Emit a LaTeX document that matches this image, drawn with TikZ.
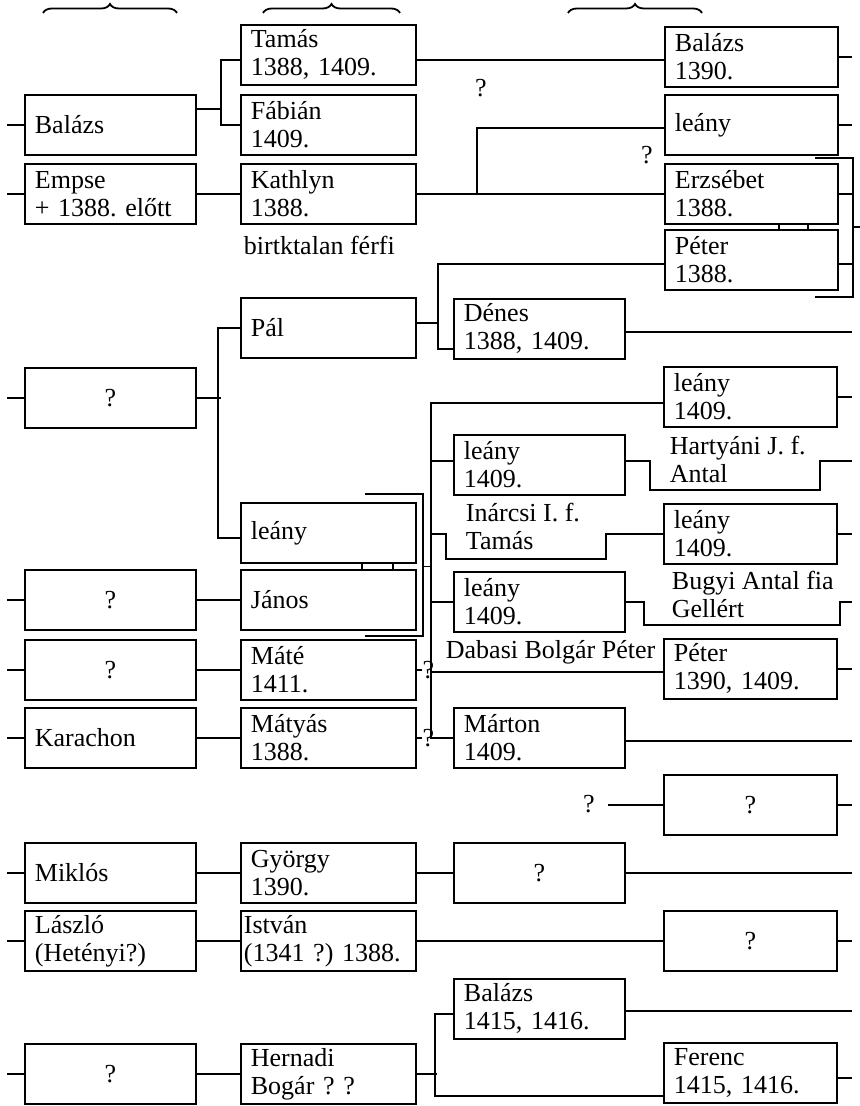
\documentclass[tikz,border=0pt]{standalone}
\usepackage{fontspec}
\setmainfont{Liberation Serif}
\frenchspacing
\usetikzlibrary{calc,decorations.pathreplacing}

\tikzset{
  every node/.style={font=\fontsize{13}{14}\selectfont},
  person/.style={draw, anchor=north west, text width=#1, minimum height=30pt,
    inner xsep=5pt, inner ysep=0pt, align=left},
  person/.default=75.5pt,
  unknown/.style={person=#1, align=center},
  unknown/.default=75.5pt,
  note/.style={anchor=west, align=left, inner sep=0pt},
  qmark/.style={inner sep=0pt}
}

\begin{document}
\begin{tikzpicture}[x=0.5pt, y=-0.5pt, line width=0.9pt]
        \useasboundingbox (0,0) rectangle (859,1106);
        \coordinate (edgeL) at (7,0);
        \coordinate (edgeR) at (852,0);

        % braces over the columns
        \draw[decorate, decoration={brace, amplitude=4.5pt}] (43,13) -- (177,13);
        \draw[decorate, decoration={brace, amplitude=4.5pt}] (263,13) -- (400,13);
        \draw[decorate, decoration={brace, amplitude=4.5pt}] (568,13) -- (702,13);

        % first column
        \node[person] (balazsA) at (24,94) {Balázs};
        \node[person] (empse) at (24,163) {Empse\\+ 1388. előtt};
        \node[unknown] (qA1) at (24,367) {?};
        \node[unknown] (qA2) at (24,569) {?};
        \node[unknown] (qA3) at (24,639) {?};
        \node[person] (karachon) at (24,707) {Karachon};
        \node[person] (miklos) at (24,842) {Miklós};
        \node[person] (laszlo) at (24,910) {László\\(Hetényi?)};
        \node[unknown] (qA4) at (24,1043) {?};

        % second column
        \node[person=77.5pt] (tamas) at (240,24) {Tamás\\1388, 1409.};
        \node[person=77.5pt] (fabian) at (240,94) {Fábián\\1409.};
        \node[person=77.5pt] (kathlyn) at (240,163) {Kathlyn\\1388.};
        \node[person=77.5pt] (pal) at (240,297) {Pál};
        \node[person=77.5pt] (leanyB) at (240,502) {leány};
        \node[person=77.5pt] (janos) at (240,569) {János};
        \node[person=77.5pt] (mate) at (240,639) {Máté\\1411.};
        \node[person=77.5pt] (matyas) at (240,707) {Mátyás\\1388.};
        \node[person=77.5pt] (gyorgy) at (240,842) {György\\1390.};
        \node[person=84.5pt, inner xsep=1.5pt] (istvan) at (240,910) {István\\(1341~?)~1388.};
        \node[person=77.5pt] (hernadi) at (240,1043) {Hernadi\\Bogár ? ?};

        % third column
        \node[person] (denes) at (453,298) {Dénes\\1388, 1409.};
        \node[person] (leanyC1) at (453,434) {leány\\1409.};
        \node[person] (leanyC2) at (453,571) {leány\\1409.};
        \node[person] (marton) at (453,707) {Márton\\1409.};
        \node[unknown] (qC1) at (453,842) {?};
        \node[person] (balazsC) at (453,978) {Balázs\\1415, 1416.};

        % fourth column
        \node[person=76.5pt] (balazsD) at (664,26) {Balázs\\1390.};
        \node[person=76.5pt] (leanyD) at (664,94) {leány};
        \node[person=76.5pt] (erzsebet) at (664,163) {Erzsébet\\1388.};
        \node[person=76.5pt] (peterD) at (664,229) {Péter\\1388.};
        \node[person=76.5pt] (leanyD1) at (663,366) {leány\\1409.};
        \node[person=76.5pt] (leanyD2) at (663,503) {leány\\1409.};
        \node[person=76.5pt] (peterD2) at (663,638) {Péter\\1390, 1409.};
        \node[unknown=76.5pt] (qD1) at (663,774) {?};
        \node[unknown=76.5pt] (qD2) at (663,910) {?};
        \node[person=76.5pt] (ferenc) at (663,1042) {Ferenc\\1415, 1416.};

        % loose texts
        \node[note] (birtok) at (243,245) {birtktalan férfi};
        \node[note] (inarcsi) at (465,526) {Inárcsi I. f.\\Tamás};
        \node[note] (hartyani) at (669,459) {Hartyáni J. f.\\Antal};
        \node[note] (bugyi) at (671,594) {Bugyi Antal fia\\Gellért};
        \node[note] (dabasi) at (445,652) {Dabasi Bolgár Péter};
        \node[qmark] (q1) at (481,88) {?};
        \node[qmark] (q2) at (647,155) {?};
        \node[qmark] (q3) at (589,804) {?};

        % stubs at the edges
        \foreach \n in {balazsA,empse,qA1,qA2,qA3,karachon,miklos,laszlo,qA4}
          \draw (\n.west) -- (\n.west -| edgeL);
        \foreach \n in {balazsD,leanyD,leanyD1,leanyD2,peterD2,qD1,qD2}
          \draw (\n.east) -- (\n.east -| edgeR);

        % top part
        \draw ([yshift=8pt]balazsA.east) -- ++(12pt,0) coordinate (forkA);
        \draw ([yshift=-2.5pt]tamas.west) -| (forkA) |- (fabian.west);
        \draw ([yshift=-2.5pt]tamas.east) -- ([yshift=-2.5pt]tamas.east -| balazsD.west);
        \draw (empse.east) -- (kathlyn.west);
        \draw (kathlyn.east) -- (erzsebet.west);
        \draw ([xshift=30pt]kathlyn.east) |- ([yshift=-1.5pt]leanyD.west);

        \draw ([xshift=-12pt,yshift=2.5pt]erzsebet.north east) -| ([xshift=7pt,yshift=-3pt]peterD.south east)
          -- ([xshift=-12pt,yshift=-3pt]peterD.south east);
        \draw (erzsebet.east) -- ++(7pt,0);
        \draw ([yshift=-2pt]peterD.east) -- ++(7pt,0);
        \draw ([xshift=-30pt]erzsebet.south east) -- ([xshift=-30pt]peterD.north east);
        \draw ([xshift=-15.5pt]erzsebet.south east) -- ([xshift=-15.5pt]peterD.north east);
        \draw ($(erzsebet.south east)!0.5!(peterD.north east)+(7pt,0)$) -- ++(5pt,0);

        % Pal and his sister
        \draw ([yshift=2.5pt]pal.east) -- ++(10.5pt,0) coordinate (forkP);
        \draw ([yshift=-2pt]peterD.west) -| (forkP) |- ([yshift=-10pt]denes.west);
        \draw ([yshift=-1.5pt]denes.east) -- ([yshift=-1.5pt]denes.east -| edgeR);
        \draw (qA1.east) -- ++(12pt,0);
        \draw (pal.west) -- ++(-11pt,0) |- ([yshift=-2.5pt]leanyB.west);
        \draw (qA2.east) -- (janos.west);

        \draw ([xshift=-26pt,yshift=4pt]leanyB.north east) -| ([xshift=3pt,yshift=-2.5pt]janos.south east)
          -- ([xshift=-26pt,yshift=-2.5pt]janos.south east);
        \draw ([xshift=-27.5pt]leanyB.south east) -- ([xshift=-27.5pt]janos.north east);
        \draw ([xshift=-12pt]leanyB.south east) -- ([xshift=-12pt]janos.north east);

        % children of Janos
        \coordinate (trunk) at ([xshift=-11pt]marton.west);
        \draw ($(leanyB.south east)!0.5!(janos.north east)+(3pt,0)$) coordinate (mLJ) -- (mLJ -| trunk);
        \draw ([yshift=-3pt]leanyD1.west) -| (trunk) -- (marton.west);
        \draw ([yshift=2pt]leanyC1.west) -- ([yshift=2pt]leanyC1.west -| trunk);
        \draw (leanyC2.west) -- (leanyC2.west -| trunk);
        \draw ([yshift=-1.5pt]peterD2.west) -- ([yshift=-1.5pt]peterD2.west -| trunk);
        \draw (leanyD2.west -| trunk) -- ++(7.5pt,0) -- ++(0,-12.5pt)
          -| ([xshift=-28.5pt]leanyD2.west) -- (leanyD2.west);
        \draw ([yshift=2pt]leanyC1.east) -- ++(12pt,0) -- ++(0,-14.5pt) -- ++(85pt,0)
          |- ([yshift=2pt]leanyC1.east -| edgeR);
        \draw (leanyC2.east) -- ++(9pt,0) -- ++(0,-11.5pt) -- ++(98pt,0)
          |- (leanyC2.east -| edgeR);

        \draw (qA3.east) -- (mate.west);
        \draw (karachon.east) -- (matyas.west);
        \draw (mate.east) -- ++(2.5pt,0) node[qmark, anchor=west] (qm1) {?};
        \draw (matyas.east) -- ++(2.5pt,0) node[qmark, anchor=west] (qm2) {?};
        \draw ([yshift=-1.5pt]marton.east) -- ([yshift=-1.5pt]marton.east -| edgeR);
        \draw ([xshift=6pt]q3.east |- qD1.west) -- (qD1.west);

        % lower part
        \draw (miklos.east) -- (gyorgy.west);
        \draw (gyorgy.east) -- (qC1.west);
        \draw (qC1.east) -- (qC1.east -| edgeR);
        \draw (laszlo.east) -- (istvan.west);
        \draw (istvan.east) -- (qD2.west);
        \draw (qA4.east) -- (hernadi.west);
        \draw (hernadi.east) -- ++(10pt,0);
        \draw ([yshift=-2.5pt]balazsC.west) -- ++(-9pt,0) |- ([yshift=-11.5pt]ferenc.west);
        \draw ([yshift=-1pt]balazsC.east) -- ([yshift=-1pt]balazsC.east -| edgeR);
        \draw ([yshift=-2.5pt]ferenc.east) -- ([yshift=-2.5pt]ferenc.east -| edgeR);

\end{tikzpicture}
\end{document}
